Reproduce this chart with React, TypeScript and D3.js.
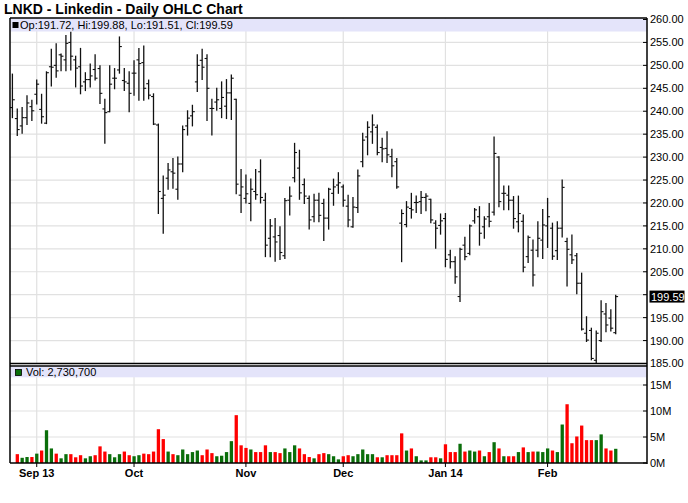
import React from "react";
import * as d3 from "d3";

const opens = [
  240.8, 238.4, 236.8, 238.6, 241.0, 243.7, 240.4, 237.4, 249.7, 250.0,
  252.3, 251.2, 255.0, 251.2, 249.7, 246.4, 246.9, 249.1, 249.3, 240.5,
  239.9, 247.2, 249.0, 246.7, 246.1, 248.3, 251.2, 250.6, 246.0, 243.2,
  237.0, 221.0, 225.4, 226.8, 223.0, 228.5, 236.8, 239.0, 246.4, 251.1,
  251.5, 240.6, 242.0, 240.6, 241.1, 244.0, 242.6, 221.7, 221.0, 219.9,
  222.5, 226.8, 220.6, 212.3, 212.6, 212.9, 208.5, 220.6, 225.5, 227.6,
  224.0, 221.0, 217.0, 220.6, 219.9, 216.7, 222.1, 223.9, 223.5, 219.3,
  214.8, 219.0, 229.0, 234.4, 235.5, 236.5, 232.1, 231.9, 230.1, 229.0,
  215.6, 215.3, 218.8, 220.1, 220.3, 221.2, 220.8, 215.6, 215.1, 216.6,
  208.7, 207.2, 199.6, 210.8, 209.0, 216.1, 217.0, 214.8, 217.0, 218.0,
  230.0, 222.1, 221.7, 220.6, 215.9, 216.0, 208.3, 209.7, 209.7, 211.9,
  215.0, 214.5, 209.6, 214.5, 211.6, 208.7, 208.5, 202.5, 191.6, 192.2,
  185.7, 190.0, 195.8, 194.9, 191.72,
];
const highs = [
  248.1, 240.5, 240.8, 243.4, 242.4, 246.8, 243.7, 248.6, 253.5, 254.7,
  252.5, 256.5, 257.2, 252.0, 253.7, 248.4, 250.3, 252.3, 249.9, 242.6,
  249.9, 249.3, 256.2, 249.3, 248.6, 251.0, 253.7, 254.2, 246.8, 243.8,
  237.2, 225.9, 228.6, 229.7, 230.0, 236.8, 240.1, 241.3, 252.3, 253.5,
  252.3, 242.6, 245.0, 246.4, 246.9, 247.9, 242.6, 227.3, 226.1, 225.2,
  227.3, 229.4, 222.1, 216.4, 216.6, 214.8, 221.0, 223.5, 233.0, 231.5,
  225.2, 221.5, 221.9, 222.1, 220.8, 223.2, 225.2, 226.6, 223.9, 221.7,
  221.2, 227.2, 235.2, 237.7, 239.2, 237.0, 234.1, 235.5, 231.7, 229.7,
  218.5, 220.3, 222.1, 221.5, 222.5, 222.0, 220.8, 216.1, 217.6, 217.7,
  209.7, 208.3, 210.1, 212.5, 215.2, 218.8, 219.2, 217.0, 219.9, 234.4,
  230.1, 223.7, 223.7, 221.4, 221.5, 217.4, 212.8, 211.9, 215.9, 218.6,
  221.0, 215.6, 215.9, 225.0, 212.3, 213.0, 209.0, 204.7, 195.2, 192.7,
  192.1, 198.7, 198.1, 196.7, 199.88,
];
const lows = [
  238.6, 234.7, 235.2, 237.1, 238.0, 241.6, 237.4, 237.3, 245.5, 247.4,
  248.8, 248.8, 249.0, 245.3, 243.8, 244.5, 245.3, 246.8, 241.7, 233.0,
  239.9, 244.9, 248.3, 244.5, 239.9, 243.5, 242.4, 242.4, 242.7, 237.1,
  217.7, 213.4, 223.0, 223.2, 220.8, 226.8, 234.8, 236.8, 244.3, 246.9,
  238.0, 234.8, 240.2, 238.6, 238.4, 238.2, 222.0, 217.9, 220.0, 216.1,
  220.8, 220.0, 208.3, 208.3, 207.3, 207.7, 207.9, 217.4, 224.6, 220.8,
  219.9, 214.3, 215.9, 215.9, 211.8, 214.3, 219.5, 222.1, 219.3, 214.8,
  214.7, 217.9, 227.9, 230.5, 233.0, 230.5, 229.0, 228.8, 225.7, 223.2,
  207.2, 214.8, 216.7, 217.9, 217.7, 218.3, 215.7, 210.1, 213.2, 206.1,
  205.8, 202.5, 198.5, 207.6, 208.7, 215.6, 210.8, 212.3, 214.8, 217.4,
  219.2, 218.5, 218.5, 214.5, 213.7, 205.0, 207.0, 201.9, 208.3, 207.9,
  210.3, 207.7, 207.7, 212.6, 201.9, 206.8, 200.2, 192.3, 189.8, 185.8,
  185.0, 189.8, 191.9, 192.1, 191.51,
];
const closes = [
  242.5, 236.0, 238.6, 241.8, 240.1, 245.9, 238.8, 248.4, 249.6, 248.8,
  252.0, 254.8, 252.0, 249.4, 245.5, 246.9, 247.7, 247.2, 243.9, 239.7,
  245.9, 247.2, 254.1, 246.4, 243.9, 248.3, 250.4, 245.0, 243.5, 237.2,
  222.5, 221.7, 227.2, 226.5, 228.5, 236.0, 238.5, 239.9, 250.0, 249.6,
  245.0, 240.6, 242.5, 243.0, 244.0, 247.2, 224.1, 223.5, 222.0, 223.0,
  221.8, 221.2, 210.8, 215.0, 211.5, 209.2, 220.5, 221.5, 231.0, 222.2,
  221.5, 216.3, 220.6, 217.3, 216.7, 223.0, 223.5, 224.4, 220.6, 216.3,
  219.1, 225.9, 233.7, 236.5, 237.0, 231.0, 231.8, 230.5, 228.1, 223.5,
  217.7, 219.1, 218.5, 220.1, 221.2, 221.5, 216.3, 214.5, 216.1, 207.7,
  207.2, 203.9, 209.9, 208.3, 215.0, 218.5, 213.4, 216.5, 216.0, 230.8,
  220.3, 222.1, 220.6, 216.6, 217.7, 206.0, 212.5, 204.3, 212.3, 215.2,
  217.0, 208.4, 214.5, 223.4, 209.9, 207.6, 202.5, 192.5, 190.1, 186.1,
  191.6, 196.3, 193.4, 192.7, 199.59,
];
// volume in millions of shares (first bar's volume not shown in the chart)
const volumesM = [
  0, 1.7, 1.0, 1.15, 1.15, 1.8, 2.4, 6.3, 2.8, 1.8,
  0.9, 1.7, 1.7, 1.1, 1.5, 0.9, 1.3, 1.5, 3.2, 2.2,
  1.7, 1.1, 1.7, 2.2, 1.5, 1.3, 1.5, 1.8, 1.7, 2.2,
  6.5, 4.6, 2.2, 1.7, 1.5, 2.6, 1.7, 2.1, 2.4, 1.5,
  2.6, 1.9, 1.3, 1.4, 2.1, 4.2, 9.2, 3.4, 2.9, 2.6,
  2.1, 2.1, 3.4, 2.1, 2.1, 1.9, 2.8, 2.1, 3.4, 2.8,
  1.7, 1.15, 0.9, 1.7, 1.9, 1.7, 1.3, 0.7, 1.3, 1.5,
  1.3, 1.7, 2.6, 1.7, 1.7, 1.1, 1.1, 1.5, 1.5, 1.5,
  5.7, 2.4, 2.8, 1.3, 0.5, 0.5, 1.1, 1.1, 0.9, 3.6,
  2.1, 2.1, 3.7, 2.2, 2.4, 2.2, 2.4, 1.3, 2.1, 4.0,
  2.8, 1.3, 1.3, 1.3, 2.1, 3.0, 2.1, 2.2, 2.2, 2.1,
  2.8, 2.4, 2.1, 7.4, 11.3, 3.8, 5.1, 7.2, 4.4, 4.4,
  4.4, 5.5, 2.8, 2.4, 2.7307,
];
const monthLabels = ["Sep 13", "Oct", "Nov", "Dec", "Jan 14", "Feb"];
const monthIndex = [5, 25, 48, 68, 89, 110];
const priceTicks = [185, 190, 195, 200, 205, 210, 215, 220, 225, 230, 235, 240, 245, 250, 255, 260];
const volTicks = [0, 5, 10, 15];
const volTickLabels = ["0M", "5M", "10M", "15M"];

const FONT = "Arial, 'Liberation Sans', Helvetica, sans-serif";

export default function App() {
  const W = 688, H = 503;
  const left = 10, right = 647;
  const pTop = 18, pBot = 363.5;
  const vTop = 365.5, vBot = 463;
  const n = opens.length;
  const x = d3.scaleLinear().domain([0, n - 1]).range([12.4, 615.7]);
  const yP = d3.scaleLinear().domain([185, 260]).range([363.5, 19.5]);
  const yV = d3.scaleLinear().domain([0, 15]).range([vBot, 385]);
  const last = n - 1;
  const fmt = d3.format(".2f");
  const volText = d3.format(",")(Math.round(volumesM[last] * 1e6));
  const up = (i: number) => (i === 0 ? closes[0] >= opens[0] : closes[i] >= closes[i - 1]);
  const yClose = yP(closes[last]);

  return (
    <svg
      width={W}
      height={H}
      style={{ position: "absolute", left: 0, top: 0, background: "#fff" }}
      fontFamily={FONT}
    >
      <rect x={0} y={0} width={W} height={H} fill="#fff" />
      <text x={4} y={14} fontSize={14} fontWeight="bold" fill="#000">
        LNKD - Linkedin - Daily OHLC Chart
      </text>

      {/* price grid */}
      {priceTicks.map((p) => (
        <line key={"pg" + p} x1={left} x2={right} y1={yP(p)} y2={yP(p)} stroke="#e1e1e1" strokeWidth={1.2} />
      ))}
      {monthIndex.map((m) => (
        <line key={"pv" + m} x1={x(m)} x2={x(m)} y1={pTop} y2={pBot} stroke="#e1e1e1" strokeWidth={1.2} />
      ))}
      {/* volume grid */}
      {volTicks.slice(1).map((v) => (
        <line key={"vg" + v} x1={left} x2={right} y1={yV(v)} y2={yV(v)} stroke="#e1e1e1" strokeWidth={1.2} />
      ))}
      {monthIndex.map((m) => (
        <line key={"vv" + m} x1={x(m)} x2={x(m)} y1={vTop} y2={vBot} stroke="#e1e1e1" strokeWidth={1.2} />
      ))}

      {/* legend bands */}
      <rect x={left + 0.5} y={pTop + 0.5} width={right - left - 1} height={13} fill="#e4e4fa" />
      <rect x={left + 0.5} y={vTop + 0.8} width={right - left - 1} height={11} fill="#e4e4fa" />

      {/* OHLC bars */}
      {opens.map((o, i) => {
        const cx = x(i);
        return (
          <g key={"b" + i} stroke="#111" strokeWidth={1.3}>
            <line x1={cx} x2={cx} y1={yP(highs[i]) - 0.5} y2={yP(lows[i]) + 0.5} />
            <line x1={cx - 2.4} x2={cx} y1={yP(o)} y2={yP(o)} strokeWidth={1.1} />
            <line x1={cx} x2={cx + 2.4} y1={yP(closes[i])} y2={yP(closes[i])} strokeWidth={1.1} />
          </g>
        );
      })}

      {/* volume bars */}
      {volumesM.map((v, i) =>
        v > 0 ? (
          <rect
            key={"v" + i}
            x={x(i) - 1.6}
            y={yV(v)}
            width={3.3}
            height={yV(0) - yV(v)}
            fill={up(i) ? "#0a6e0a" : "#ff0000"}
          />
        ) : null
      )}

      {/* legend texts */}
      <rect x={12.5} y={22} width={6} height={6} fill="#000" />
      <text x={20} y={29} fontSize={11} fill="#000">
        {`Op:${fmt(opens[last])}, Hi:${fmt(highs[last])}, Lo:${fmt(lows[last])}, Cl:${fmt(closes[last])}`}
      </text>
      <rect x={15.5} y={369.5} width={6} height={6} fill="#0a6e0a" stroke="#000" strokeWidth={0.8} />
      <text x={26} y={376} fontSize={11} fill="#000">
        {`Vol: ${volText}`}
      </text>

      {/* frames */}
      <line x1={left} x2={right} y1={pTop} y2={pTop} stroke="#000" strokeWidth={1.3} />
      <line x1={left} x2={right} y1={pBot} y2={pBot} stroke="#000" strokeWidth={1.3} />
      <line x1={left} x2={right} y1={vTop + 0.5} y2={vTop + 0.5} stroke="#000" strokeWidth={1.3} />
      <line x1={left} x2={right} y1={vBot} y2={vBot} stroke="#000" strokeWidth={1.5} />
      <line x1={left} x2={left} y1={pTop} y2={vBot} stroke="#000" strokeWidth={1.5} />
      <line x1={right} x2={right} y1={pTop} y2={vBot + 1} stroke="#000" strokeWidth={1.5} />

      {/* right price axis */}
      {priceTicks.map((p) => (
        <g key={"pt" + p}>
          <line x1={right - 4} x2={right} y1={yP(p)} y2={yP(p)} stroke="#000" strokeWidth={1} />
          {Math.abs(yP(p) - yClose) > 9 ? (
            <text x={650} y={yP(p)} dy="0.36em" fontSize={11} fill="#000">
              {fmt(p)}
            </text>
          ) : null}
        </g>
      ))}
      <rect x={649.5} y={yClose - 6} width={35} height={12} fill="#000" />
      <text x={651} y={yClose} dy="0.36em" fontSize={11} fill="#fff">
        {fmt(closes[last])}
      </text>

      {/* right volume axis */}
      {volTicks.map((v, k) => (
        <g key={"vt" + v}>
          <line x1={right - 4} x2={right} y1={yV(v)} y2={yV(v)} stroke="#000" strokeWidth={1} />
          <text x={650} y={yV(v)} dy="0.36em" fontSize={11} fill="#000">
            {volTickLabels[k]}
          </text>
        </g>
      ))}

      {/* x axis */}
      {monthIndex.map((m, k) => (
        <g key={"xt" + m}>
          <line x1={x(m)} x2={x(m)} y1={vBot} y2={vBot + 4} stroke="#000" strokeWidth={1} />
          <text x={x(m)} y={477} fontSize={11} fontWeight="bold" textAnchor="middle" fill="#000">
            {monthLabels[k]}
          </text>
        </g>
      ))}
    </svg>
  );
}
